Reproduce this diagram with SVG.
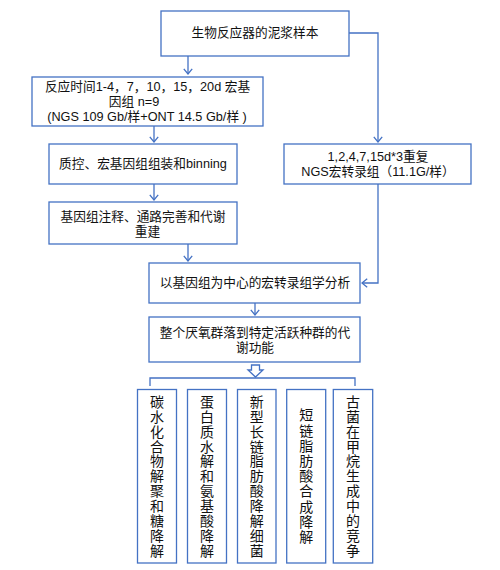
<svg xmlns="http://www.w3.org/2000/svg" width="500" height="570" viewBox="0 0 500 570">
<style>
.box{fill:#fff;stroke:#4472C4;stroke-width:1.3}
.t{font-family:"Liberation Sans","Noto Sans CJK SC",sans-serif;font-size:12.7px;fill:#111;text-anchor:middle;dominant-baseline:central}
.v{font-family:"Noto Sans CJK SC","Liberation Sans",sans-serif;font-size:14px;fill:#111;text-anchor:middle;dominant-baseline:central;writing-mode:vertical-rl;letter-spacing:0.9px}
.c{fill:none;stroke:#4472C4;stroke-width:1.3}
</style>
<defs>
<marker id="ah" markerUnits="userSpaceOnUse" markerWidth="7" markerHeight="10" viewBox="0 0 7 10" refX="6" refY="5" orient="auto">
<path d="M0.8,0.8 L6,5 L0.8,9.2" fill="none" stroke="#4472C4" stroke-width="1.3"/>
</marker>
</defs>
<rect width="500" height="570" fill="#fff"/>
<g id="connectors">
<path class="c" d="M188,56 V74" marker-end="url(#ah)"/>
<path class="c" d="M349,33 H378 V142" marker-end="url(#ah)"/>
<path class="c" d="M154,126 V142" marker-end="url(#ah)"/>
<path class="c" d="M154,184 V200" marker-end="url(#ah)"/>
<path class="c" d="M188,244 V261" marker-end="url(#ah)"/>
<path class="c" d="M378,184 V283 H362" marker-end="url(#ah)"/>
<path class="c" d="M255,303 V315" marker-end="url(#ah)"/>
<polygon class="box" points="251.5,365 259.5,365 259.5,370 263,370 255.5,377 248,370 251.5,370"/>
<path class="c" d="M150,386 V378 H355 V386"/>
</g>
<g id="n1">
<rect class="box" x="161" y="11" width="188" height="45"/>
<text class="t" x="255" y="33">生物反应器的泥浆样本</text>
</g>
<g id="n2">
<rect class="box" x="32" y="77" width="231" height="49"/>
<text class="t" x="147.5" y="86.5">反应时间1-4，7，10，15，20d 宏基</text>
<text class="t" x="134" y="101.5">因组 n=9</text>
<text class="t" x="147" y="116.5">(NGS 109 Gb/样+ONT 14.5 Gb/样 )</text>
</g>
<g id="n3">
<rect class="box" x="49" y="144" width="188" height="40"/>
<text class="t" x="143" y="164">质控、宏基因组组装和binning</text>
</g>
<g id="n4">
<rect class="box" x="284" y="144" width="187" height="40"/>
<text class="t" x="378" y="156.5">1,2,4,7,15d*3重复</text>
<text class="t" x="378" y="172">NGS宏转录组（11.1G/样）</text>
</g>
<g id="n5">
<rect class="box" x="49" y="202" width="188" height="42"/>
<text class="t" x="143" y="216.5">基因组注释、通路完善和代谢</text>
<text class="t" x="147.5" y="231.5">重建</text>
</g>
<g id="n6">
<rect class="box" x="149" y="263" width="211" height="40"/>
<text class="t" x="255" y="283">以基因组为中心的宏转录组学分析</text>
</g>
<g id="n7">
<rect class="box" x="149" y="317" width="211" height="45"/>
<text class="t" x="255" y="333">整个厌氧群落到特定活跃种群的代</text>
<text class="t" x="255" y="348">谢功能</text>
</g>
<g id="n8">
<rect class="box" x="137.5" y="389.5" width="39" height="173.5"/>
<text class="v" x="157" y="476.5">碳水化合物解聚和糖降解</text>
</g>
<g id="n9">
<rect class="box" x="187.5" y="389.5" width="39" height="173.5"/>
<text class="v" x="207" y="476.5">蛋白质水解和氨基酸降解</text>
</g>
<g id="n10">
<rect class="box" x="237.5" y="389.5" width="38.5" height="173.5"/>
<text class="v" x="256.7" y="476.5">新型长链脂肪酸降解细菌</text>
</g>
<g id="n11">
<rect class="box" x="286.7" y="389.5" width="39" height="173.5"/>
<text class="v" x="306.2" y="476.5" style="letter-spacing:1.2px">短链脂肪酸合成降解</text>
</g>
<g id="n12">
<rect class="box" x="333.3" y="389.5" width="39.4" height="173.5"/>
<text class="v" x="353" y="476.5">古菌在甲烷生成中的竞争</text>
</g>
</svg>
